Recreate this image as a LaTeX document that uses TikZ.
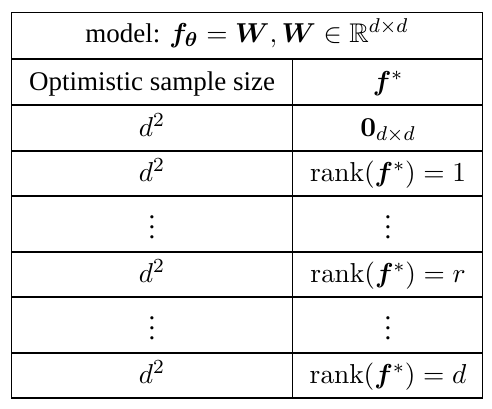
\documentclass[tikz,border=0pt]{standalone}
\usepackage[no-math]{fontspec}
\setmainfont{Liberation Serif}
\usepackage{amsmath,amssymb,bm}
\usetikzlibrary{positioning}

\begin{document}
\begin{tikzpicture}[x=0.4pt,y=-0.4pt,
    cell/.style={inner sep=0pt,anchor=base,font=\fontsize{10.8}{13}\selectfont},
    grid/.style={line width=0.45pt}]
\useasboundingbox (0,0) rectangle (492,408);
% define the cells
  \node[cell] (model) at (247,42) {model: $\bm{f}_{\bm{\theta}}=\bm{W},\bm{W}\in\mathbb{R}^{d\times d}$};
  \node[cell] (size)  at (152,90) {Optimistic sample size};
  \node[cell] (fstar) at (388,90) {$\bm{f}^*$};
  \node[cell] (n0)    at (152,136) {$d^2$};
  \node[cell] (f0)    at (388,136) {$\mathbf{0}_{d\times d}$};
  \node[cell] (n1)    at (152,181) {$d^2$};
  \node[cell] (f1)    at (388,181) {$\operatorname{rank}(\bm{f}^*)=1$};
  \node[cell] (na)    at (152,238) {$\vdots$};
  \node[cell] (fa)    at (388,238) {$\vdots$};
  \node[cell] (nr)    at (152,282) {$d^2$};
  \node[cell] (fr)    at (388,282) {$\operatorname{rank}(\bm{f}^*)=r$};
  \node[cell] (nb)    at (152,339) {$\vdots$};
  \node[cell] (fb)    at (388,339) {$\vdots$};
  \node[cell] (nd)    at (152,383) {$d^2$};
  \node[cell] (fd)    at (388,383) {$\operatorname{rank}(\bm{f}^*)=d$};

% define the rules
  \draw[grid] (11.5,12.7) rectangle (482.7,398);
  \draw[grid] (292.7,59) -- (292.7,398);
  \foreach \y in {59,105,151,196,252,297,353}
    \draw[grid] (11.5,\y) -- (482.7,\y);
\end{tikzpicture}
\end{document}
